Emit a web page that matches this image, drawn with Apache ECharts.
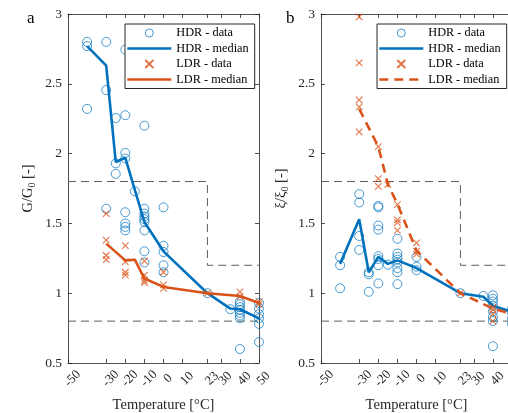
<!DOCTYPE html>
<html>
<head>
<meta charset="utf-8">
<script src="https://cdn.jsdelivr.net/npm/echarts@6/dist/echarts.min.js"></script>
<style>
html,body{margin:0;padding:0;background:#fff;}
#chart{width:508px;height:413px;}
</style>
</head>
<body>
<div id="chart"></div>
<script>
// ---- data ----
const tempTicks = [-50, -30, -20, -10, 0, 10, 23, 30, 40, 50];

// Panel a: G/G0
const hdrDataA = [
  [-40, 2.80], [-40, 2.77], [-40, 2.32],
  [-30, 2.80], [-30, 2.455], [-30, 1.605],
  [-25, 2.255], [-25, 1.93], [-25, 1.855],
  [-20, 2.745], [-20, 2.275], [-20, 2.005], [-20, 1.965], [-20, 1.58], [-20, 1.50], [-20, 1.475], [-20, 1.45],
  [-15, 1.73],
  [-10, 2.20], [-10, 1.605], [-10, 1.57], [-10, 1.55], [-10, 1.53], [-10, 1.51], [-10, 1.45], [-10, 1.30], [-10, 1.22],
  [0, 1.615], [0, 1.34], [0, 1.295], [0, 1.20], [0, 1.15],
  [23, 1.0],
  [35, 0.885],
  [40, 0.94], [40, 0.92], [40, 0.90], [40, 0.88], [40, 0.86], [40, 0.84], [40, 0.82], [40, 0.60],
  [50, 0.93], [50, 0.89], [50, 0.85], [50, 0.82], [50, 0.78], [50, 0.65]
];
const hdrMedianA = [[-40, 2.77], [-30, 2.63], [-25, 1.94], [-20, 1.97], [-10, 1.51], [0, 1.30], [23, 1.0], [35, 0.89], [40, 0.885], [50, 0.82]];
const ldrDataA = [
  [-30, 1.57], [-30, 1.38], [-30, 1.27], [-30, 1.24],
  [-20, 1.34], [-20, 1.225], [-20, 1.15], [-20, 1.13],
  [-10, 1.23], [-10, 1.13], [-10, 1.09], [-10, 1.075],
  [0, 1.15], [0, 1.06], [0, 1.035],
  [23, 1.0],
  [40, 1.01], [40, 0.975],
  [50, 0.94], [50, 0.92]
];
const ldrMedianA = [[-30, 1.355], [-20, 1.235], [-15, 1.24], [-10, 1.105], [0, 1.045], [23, 1.0], [40, 0.98], [50, 0.93]];

// Panel b: xi/xi0
const hdrDataB = [
  [-40, 1.26], [-40, 1.20], [-40, 1.035],
  [-30, 1.71], [-30, 1.65], [-30, 1.41], [-30, 1.31],
  [-25, 1.15], [-25, 1.135], [-25, 1.01],
  [-20, 1.625], [-20, 1.615], [-20, 1.485], [-20, 1.455], [-20, 1.265], [-20, 1.245], [-20, 1.20], [-20, 1.07],
  [-15, 1.205],
  [-10, 1.39], [-10, 1.285], [-10, 1.26], [-10, 1.24], [-10, 1.22], [-10, 1.18], [-10, 1.15], [-10, 1.065],
  [0, 1.26], [0, 1.19], [0, 1.165],
  [23, 1.0],
  [35, 0.98],
  [40, 0.985], [40, 0.96], [40, 0.94], [40, 0.91], [40, 0.87], [40, 0.83], [40, 0.80], [40, 0.62],
  [50, 0.89], [50, 0.86], [50, 0.82], [50, 0.78]
];
const hdrMedianB = [[-40, 1.21], [-30, 1.53], [-25, 1.15], [-20, 1.26], [-15, 1.21], [-10, 1.235], [0, 1.18], [23, 1.0], [35, 0.975], [40, 0.91], [50, 0.865]];
const ldrDataB = [
  [-30, 2.98], [-30, 2.65], [-30, 2.385], [-30, 2.335], [-30, 2.155],
  [-20, 2.05], [-20, 1.82], [-20, 1.765],
  [-15, 1.78],
  [-10, 1.635], [-10, 1.525], [-10, 1.505], [-10, 1.45],
  [0, 1.36], [0, 1.30], [0, 1.28],
  [23, 1.0],
  [40, 0.90], [40, 0.88], [40, 0.85], [40, 0.80]
];
const ldrMedianB = [[-30, 2.32], [-20, 2.05], [-15, 1.78], [-10, 1.64], [0, 1.305], [23, 1.0], [40, 0.89], [50, 0.85]];

// Limit envelopes (dashed gray)
const upperLimit = [[-50, 1.8], [23, 1.8], [23, 1.2], [50, 1.2]];
const lowerLimit = [[-50, 0.8], [50, 0.8]];

// ---- styling ----
const SERIF = "'Liberation Serif', 'DejaVu Serif', serif";
const BLUE = '#0072BD';
const ORANGE = '#D95319';
const AX = '#262626';
const CROSS = 'path://M0 0L10 10M10 0L0 10';

const chart = echarts.init(document.getElementById('chart'), null, {renderer: 'canvas'});

const axLine = {show: true, onZero: false, lineStyle: {color: AX, width: 0.8}};

function xAxes(gi) {
  return [
    {
      gridIndex: gi, type: 'value', min: -50, max: 50, position: 'bottom',
      name: 'Temperature [°C]', nameLocation: 'middle', nameGap: 35,
      nameTextStyle: {fontFamily: SERIF, fontSize: 14.5, color: AX},
      axisLine: axLine,
      axisTick: {show: true, inside: true, length: 4, customValues: tempTicks, lineStyle: {color: AX, width: 0.8}},
      axisLabel: {show: true, customValues: tempTicks, rotate: 45, align: 'center', verticalAlign: 'top', margin: 11,
        fontFamily: SERIF, fontSize: 13, color: AX},
      splitLine: {show: false}
    },
    {
      gridIndex: gi, type: 'value', min: -50, max: 50, position: 'top',
      axisLine: axLine,
      axisTick: {show: true, inside: true, length: 4, customValues: tempTicks, lineStyle: {color: AX, width: 0.8}},
      axisLabel: {show: false},
      splitLine: {show: false}
    }
  ];
}
function yAxes(gi, nameRich) {
  return [
    {
      gridIndex: gi, type: 'value', min: 0.5, max: 3, interval: 0.5, position: 'left',
      name: nameRich.text, nameLocation: 'middle', nameGap: 31, nameRotate: 90,
      nameTextStyle: {fontFamily: SERIF, fontSize: 14.5, color: AX, rich: nameRich.rich},
      axisLine: axLine,
      axisTick: {show: true, inside: true, length: 4, lineStyle: {color: AX, width: 0.8}},
      axisLabel: {fontFamily: SERIF, fontSize: 13.5, color: AX, margin: 6},
      splitLine: {show: false}
    },
    {
      gridIndex: gi, type: 'value', min: 0.5, max: 3, interval: 0.5, position: 'right',
      axisLine: axLine,
      axisTick: {show: true, inside: true, length: 4, lineStyle: {color: AX, width: 0.8}},
      axisLabel: {show: false},
      splitLine: {show: false}
    }
  ];
}
const richBase = {
  n: {fontFamily: SERIF, fontSize: 14.5, color: AX, lineHeight: 18},
  s: {fontFamily: SERIF, fontSize: 10, color: AX, lineHeight: 10, verticalAlign: 'bottom', padding: [8, 0, 0, 0]}
};

function panelSeries(gi, prefix, hdrD, hdrM, ldrD, ldrM, ldrDashed) {
  const xi = gi * 2, yi = gi * 2;
  return [
    {type: 'line', xAxisIndex: xi, yAxisIndex: yi, data: upperLimit, silent: true, showSymbol: false, symbol: 'none',
      lineStyle: {color: '#5e5e5e', width: 1, type: [8, 5]}, z: 1},
    {type: 'line', xAxisIndex: xi, yAxisIndex: yi, data: lowerLimit, silent: true, showSymbol: false, symbol: 'none',
      lineStyle: {color: '#5e5e5e', width: 1, type: [8, 5]}, z: 1},
    {name: prefix + 'HDR - data', type: 'scatter', xAxisIndex: xi, yAxisIndex: yi, data: hdrD,
      symbol: 'circle', symbolSize: 9,
      itemStyle: {color: 'rgba(0,0,0,0)', borderColor: BLUE, borderWidth: 0.9}, z: 2},
    {name: prefix + 'HDR - median', type: 'line', xAxisIndex: xi, yAxisIndex: yi, data: hdrM,
      showSymbol: false, symbol: 'none', lineStyle: {color: BLUE, width: 2.6}, itemStyle: {color: BLUE}, z: 3},
    {name: prefix + 'LDR - data', type: 'scatter', xAxisIndex: xi, yAxisIndex: yi, data: ldrD,
      symbol: CROSS, symbolSize: 6.5,
      itemStyle: {color: 'rgba(0,0,0,0)', borderColor: ORANGE, borderWidth: 1.1}, z: 4},
    {name: prefix + 'LDR - median', type: 'line', xAxisIndex: xi, yAxisIndex: yi, data: ldrM,
      showSymbol: false, symbol: 'none',
      lineStyle: {color: ORANGE, width: 2.6, type: ldrDashed ? [9, 6] : 'solid'}, itemStyle: {color: ORANGE}, z: 5}
  ];
}

function legendFor(prefix, left, dashed) {
  const hide = {color: 'rgba(0,0,0,0)', borderColor: 'rgba(0,0,0,0)', borderWidth: 0, opacity: 0};
  return {
    left: left, top: 24, orient: 'vertical', selectedMode: false,
    itemWidth: 44, itemHeight: 8, itemGap: 3.5,
    padding: [3, 6, 3, 1],
    backgroundColor: '#fff', borderColor: AX, borderWidth: 1,
    textStyle: {fontFamily: SERIF, fontSize: 12.3, color: '#000', lineHeight: 11},
    formatter: function (n) { return n.replace(prefix, ''); },
    data: [
      {name: prefix + 'HDR - data', itemStyle: {borderWidth: 0.9}},
      {name: prefix + 'HDR - median', itemStyle: hide, lineStyle: {width: 2.6, color: BLUE}},
      {name: prefix + 'LDR - data'},
      {name: prefix + 'LDR - median', itemStyle: hide,
        lineStyle: {width: 2.6, color: ORANGE, type: dashed ? [9, 6] : 'solid'}}
    ]
  };
}

const option = {
  animation: false,
  backgroundColor: '#fff',
  grid: [
    {left: 68, top: 14, width: 191, height: 349, containLabel: false, outerBoundsMode: 'none'},
    {left: 321, top: 14, width: 191, height: 349, containLabel: false, outerBoundsMode: 'none'}
  ],
  xAxis: [...xAxes(0), ...xAxes(1)],
  yAxis: [
    ...yAxes(0, {text: '{n|G/G}{s|0}{n| [-]}', rich: richBase}),
    ...yAxes(1, {text: '{n|ξ/ξ}{s|0}{n| [-]}', rich: richBase})
  ],
  legend: [legendFor('a:', 125, false), legendFor('b:', 377, true)],
  series: [
    ...panelSeries(0, 'a:', hdrDataA, hdrMedianA, ldrDataA, ldrMedianA, false),
    ...panelSeries(1, 'b:', hdrDataB, hdrMedianB, ldrDataB, ldrMedianB, true)
  ],
  graphic: [
    {type: 'text', left: 27, top: 10, style: {text: 'a', font: '17px ' + SERIF, fill: '#000'}},
    {type: 'text', left: 286, top: 10, style: {text: 'b', font: '17px ' + SERIF, fill: '#000'}}
  ]
};
chart.setOption(option);
</script>
</body>
</html>
